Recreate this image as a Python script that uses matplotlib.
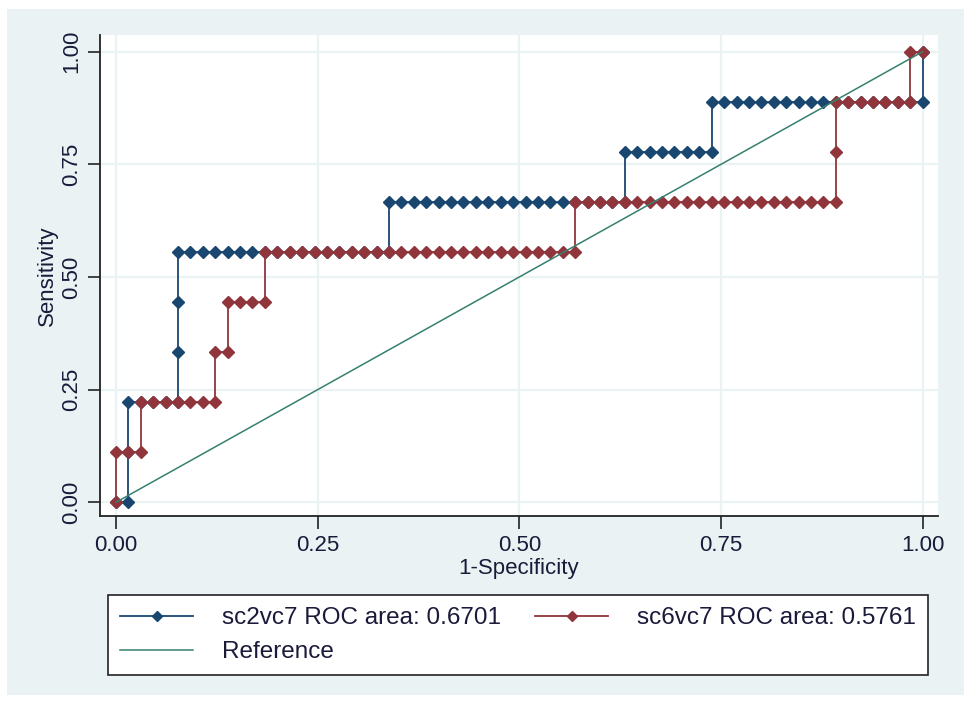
import numpy as np
import matplotlib.pyplot as plt
from matplotlib.patches import Rectangle

plt.rcParams['font.family'] = ['Liberation Sans', 'DejaVu Sans']

# ROC points, as counts: 65 negatives, 9 positives
n_neg = 65
n_pos = 9

sc2_fp = [0, 1, 1, 1, 2, 3, 4, 5, 5, 5,
          5, 6, 7, 8, 9, 10, 11, 12, 13, 14,
          15, 16, 17, 18, 19, 20, 21, 22, 22, 23,
          24, 25, 26, 27, 28, 29, 30, 31, 32, 33,
          34, 35, 36, 37, 38, 39, 40, 41, 41, 42,
          43, 44, 45, 46, 47, 48, 48, 49, 50, 51,
          52, 53, 54, 55, 56, 57, 58, 59, 60, 61,
          62, 63, 64, 65, 65]
sc2_tp = [0, 0, 1, 2, 2, 2, 2, 2, 3, 4,
          5, 5, 5, 5, 5, 5, 5, 5, 5, 5,
          5, 5, 5, 5, 5, 5, 5, 5, 6, 6,
          6, 6, 6, 6, 6, 6, 6, 6, 6, 6,
          6, 6, 6, 6, 6, 6, 6, 6, 7, 7,
          7, 7, 7, 7, 7, 7, 8, 8, 8, 8,
          8, 8, 8, 8, 8, 8, 8, 8, 8, 8,
          8, 8, 8, 8, 9]

sc6_fp = [0, 0, 1, 2, 2, 3, 4, 5, 6, 7,
          8, 8, 9, 9, 10, 11, 12, 12, 13, 14,
          15, 16, 17, 18, 19, 20, 21, 22, 23, 24,
          25, 26, 27, 28, 29, 30, 31, 32, 33, 34,
          35, 36, 37, 37, 38, 39, 40, 41, 42, 43,
          44, 45, 46, 47, 48, 49, 50, 51, 52, 53,
          54, 55, 56, 57, 58, 58, 58, 59, 60, 61,
          62, 63, 64, 64, 65]
sc6_tp = [0, 1, 1, 1, 2, 2, 2, 2, 2, 2,
          2, 3, 3, 4, 4, 4, 4, 5, 5, 5,
          5, 5, 5, 5, 5, 5, 5, 5, 5, 5,
          5, 5, 5, 5, 5, 5, 5, 5, 5, 5,
          5, 5, 5, 6, 6, 6, 6, 6, 6, 6,
          6, 6, 6, 6, 6, 6, 6, 6, 6, 6,
          6, 6, 6, 6, 6, 7, 8, 8, 8, 8,
          8, 8, 8, 9, 9]

labels = ['sc2vc7 ROC area: 0.6701', 'sc6vc7 ROC area: 0.5761', 'Reference']
ref_x = [0, 1]
ref_y = [0, 1]
ticks = [0, 0.25, 0.5, 0.75, 1.0]
tick_labels = ['0.00', '0.25', '0.50', '0.75', '1.00']

navy = '#1a476f'
maroon = '#90353b'
teal = '#35806f'
bg = '#eaf2f3'
txt = '#1a1a3a'
fs = 16

fig = plt.figure(figsize=(9.67, 7.02), dpi=100)
fig.patch.set_facecolor('white')
fig.patches.append(Rectangle((7/967, 7/702), 957/967, 686/702, transform=fig.transFigure,
                             facecolor=bg, edgecolor='none', zorder=-10))

ax = fig.add_axes([100/967, 186/702, 838/967, 481/702])
ax.set_facecolor('white')

x2 = np.array(sc2_fp) / n_neg
y2 = np.array(sc2_tp) / n_pos
x6 = np.array(sc6_fp) / n_neg
y6 = np.array(sc6_tp) / n_pos

h1, = ax.plot(x2, y2, color=navy, lw=1.3, marker='D', ms=6.6, mec=navy, mfc=navy, zorder=3)
h2, = ax.plot(x6, y6, color=maroon, lw=1.3, marker='D', ms=6.6, mec=maroon, mfc=maroon, zorder=4)
h3, = ax.plot(ref_x, ref_y, color=teal, lw=1.1, zorder=5)

ax.set_xlim(-0.0198, 1.019)
ax.set_ylim(-0.0304, 1.037)
ax.set_xticks(ticks)
ax.set_xticklabels(tick_labels)
ax.set_yticks(ticks)
ax.set_yticklabels(tick_labels, rotation=90, va='center')
ax.grid(True, color=bg, lw=1.6, zorder=0)
ax.set_axisbelow(True)
for s in ['top', 'right']:
    ax.spines[s].set_visible(False)
for s in ['left', 'bottom']:
    ax.spines[s].set_linewidth(1.3)
    ax.spines[s].set_color('#222222')
ax.tick_params(direction='out', length=9, width=1.2, colors='#222222', labelsize=fs,
               labelcolor=txt, pad=4)
ax.tick_params(axis='x', pad=5)
ax.set_xlabel('1-Specificity', fontsize=fs, color=txt, labelpad=1)
ax.set_ylabel('Sensitivity', fontsize=fs, color=txt, labelpad=2)

leg = fig.legend([h1, h3, h2], [labels[0], labels[2], labels[1]], ncol=2,
                 loc='upper left', bbox_to_anchor=(108/967, 1 - 595/702),
                 frameon=True, fancybox=False, edgecolor='#222222', facecolor='white',
                 framealpha=1, fontsize=17.5, handlelength=3.0, numpoints=1, borderaxespad=0,
                 labelspacing=0.5, handletextpad=1.2, borderpad=0.5, columnspacing=1.4,
                 markerscale=0.7)
leg.get_frame().set_linewidth(1.2)
for t in leg.get_texts():
    t.set_color(txt)

fig.savefig('out.png', dpi=100)
